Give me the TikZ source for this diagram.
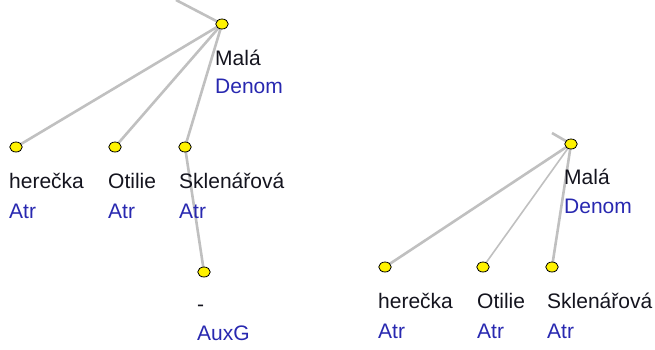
\documentclass[tikz,border=0pt]{standalone}
\usepackage{fontspec}
\setmainfont{Liberation Sans}
\usetikzlibrary{backgrounds,shapes.geometric}
\definecolor{edgegray}{RGB}{192,192,192}
\definecolor{afun}{RGB}{40,40,176}
\definecolor{wordc}{RGB}{20,20,30}
\begin{document}
\begin{tikzpicture}[x=1pt,y=-1pt,
  tnode/.style={draw=black,line width=0.8pt,fill=yellow,ellipse,minimum width=12.5pt,minimum height=10pt,inner sep=0pt},
  edge/.style={draw=edgegray,line width=2.6pt},
  thinedge/.style={draw=edgegray,line width=1.6pt},
  word/.style={anchor=base west,inner sep=0pt,text=wordc,font=\fontsize{21}{24}\selectfont},
  fun/.style={anchor=base west,inner sep=0pt,text=afun,font=\fontsize{21}{24}\selectfont}]
\useasboundingbox (0,0) rectangle (655,349);
% left tree
\coordinate (ltop) at (176,0);
\node[tnode] (lm) at (222,24) {};
\node[tnode] (lh) at (16,147) {};
\node[tnode] (lo) at (115,147) {};
\node[tnode] (ls) at (185,147) {};
\node[tnode] (ld) at (204,272) {};
\node[word] (lmw) at (215,65) {Malá};
\node[fun] (lmf) at (215,93) {Denom};
\node[word] (lhw) at (9,188) {herečka};
\node[fun] (lhf) at (9,218) {Atr};
\node[word] (low) at (108,188) {Otilie};
\node[fun] (lof) at (108,218) {Atr};
\node[word] (lsw) at (179,188) {Sklenářová};
\node[fun] (lsf) at (179,218) {Atr};
\node[word] (ldw) at (197,311) {-};
\node[fun] (ldf) at (197,340) {AuxG};
% right tree
\coordinate (rtop) at (552,133);
\node[tnode] (rm) at (571,144) {};
\node[tnode] (rh) at (385,267) {};
\node[tnode] (ro) at (483,267) {};
\node[tnode] (rs) at (552,267) {};
\node[word] (rmw) at (564,184) {Malá};
\node[fun] (rmf) at (564,213) {Denom};
\node[word] (rhw) at (378,308) {herečka};
\node[fun] (rhf) at (378,338) {Atr};
\node[word] (row) at (477,308) {Otilie};
\node[fun] (rof) at (477,338) {Atr};
\node[word] (rsw) at (547,308) {Sklenářová};
\node[fun] (rsf) at (547,338) {Atr};
\begin{scope}[on background layer]
\draw[edge] (ltop) -- (lm.center);
\draw[edge] (lm.center) -- (lh.center);
\draw[edge] (lm.center) -- (lo.center);
\draw[edge] (lm.center) -- (ls.center);
\draw[edge] (ls.center) -- (ld.center);
\draw[edge] (rtop) -- (rm.center);
\draw[edge] (rm.center) -- (rh.center);
\draw[thinedge] (rm.center) -- (ro.center);
\draw[edge] (rm.center) -- (rs.center);
\end{scope}
\end{tikzpicture}
\end{document}
